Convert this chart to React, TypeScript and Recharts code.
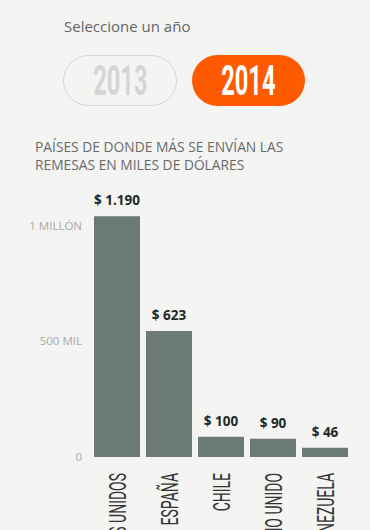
import { ComposedChart, Bar, Line, XAxis, YAxis, LabelList } from "recharts";

const countries = ["ESTADOS UNIDOS", "ESPAÑA", "CHILE", "REINO UNIDO", "VENEZUELA"];
const remittances = [1190, 623, 100, 90, 46]; // miles de dólares
const scaleTicks = [0, 500, 1000];
const scaleLabels = ["0", "500 MIL", "1 MILLÓN"];
const years = ["2013", "2014"];
const selectedYear = "2014";

const data = countries.map((name, i) => ({ name, value: remittances[i] }));

const BG = "#f4f4f2";
const BAR = "#6b7a77";
const ORANGE = "#ff5a00";
const NARROW = "Roboto, sans-serif";

function fmtMoney(v: number): string {
  return "$ " + v.toString().replace(/\B(?=(\d{3})+(?!\d))/g, ".");
}

function CountryTick({ x, y, payload }: { x?: number; y?: number; payload?: { value: string } }) {
  return (
    <text
      transform={`translate(${(x ?? 0) + 8.5},${(y ?? 0) + 16}) rotate(-90) scale(0.57,1)`}
      textAnchor="end"
      fontSize={24.5}
      fill="#333"
      fontFamily={NARROW}
    >
      {payload?.value}
    </text>
  );
}

function ValueLabel(props: { x?: number; y?: number; width?: number; value?: number }) {
  const { x = 0, y = 0, width = 0, value = 0 } = props;
  return (
    <text
      x={x + width / 2}
      y={y - 11}
      textAnchor="middle"
      fontSize={13.5}
      fontWeight={700}
      fill="#1f2828"
      fontFamily="'Open Sans', sans-serif"
    >
      {fmtMoney(value)}
    </text>
  );
}

function YearPill({ year, left, width }: { year: string; left: number; width: number }) {
  const active = year === selectedYear;
  return (
    <div
      style={{
        position: "absolute",
        left,
        top: 55,
        width,
        height: 51,
        boxSizing: "border-box",
        borderRadius: 26,
        border: active ? "none" : "1.5px solid #d3d6d8",
        background: active ? ORANGE : "transparent",
        display: "flex",
        alignItems: "center",
        justifyContent: "center",
      }}
    >
      <span
        style={{
          display: "inline-block",
          fontFamily: NARROW,
          fontWeight: 700,
          fontSize: 43,
          lineHeight: "43px",
          color: active ? "#fff" : "#d3d6d8",
          transform: "scaleX(0.55)",
        }}
      >
        {year}
      </span>
    </div>
  );
}

export default function App() {
  return (
    <div
      style={{
        position: "fixed",
        left: 0,
        top: 0,
        width: 370,
        height: 530,
        overflow: "hidden",
        background: BG,
        fontFamily: "'Open Sans', sans-serif",
      }}
    >
      <div style={{ position: "absolute", left: 64, top: 16, fontSize: 15, color: "#666" }}>
        Seleccione un año
      </div>
      <YearPill year={years[0]} left={63} width={114} />
      <YearPill year={years[1]} left={192} width={113} />
      <div
        style={{
          position: "absolute",
          left: 35,
          top: 138,
          fontSize: 13.8,
          lineHeight: "18px",
          color: "#6a6a6a",
        }}
      >
        PAÍSES DE DONDE MÁS SE ENVÍAN LAS
        <br />
        REMESAS EN MILES DE DÓLARES
      </div>
      <div style={{ position: "absolute", left: 0, top: 185 }}>
        <ComposedChart
          width={370}
          height={345}
          data={data}
          margin={{ top: 5, right: 19, left: 0, bottom: 0 }}
          barCategoryGap={3}
        >
          <XAxis
            dataKey="name"
            axisLine={false}
            tickLine={false}
            tickSize={0}
            tickMargin={0}
            height={73}
            interval={0}
            tick={<CountryTick />}
          />
          <YAxis
            yAxisId="scale"
            type="number"
            domain={[0, 1155]}
            allowDataOverflow
            ticks={scaleTicks}
            tickFormatter={(v: number) => scaleLabels[scaleTicks.indexOf(v)]}
            axisLine={false}
            tickLine={false}
            width={91}
            tick={{ fontSize: 11.5, fill: "#aaa" }}
            tickMargin={3}
          />
          <YAxis yAxisId="bars" hide width={0} domain={[0, 1320]} />
          <Bar yAxisId="bars" dataKey="value" fill={BAR} barSize={46} isAnimationActive={false}>
            <LabelList dataKey="value" content={<ValueLabel />} />
          </Bar>
          <Line
            yAxisId="scale"
            dataKey="value"
            stroke="none"
            dot={false}
            activeDot={false}
            legendType="none"
            isAnimationActive={false}
          />
        </ComposedChart>
      </div>
    </div>
  );
}
